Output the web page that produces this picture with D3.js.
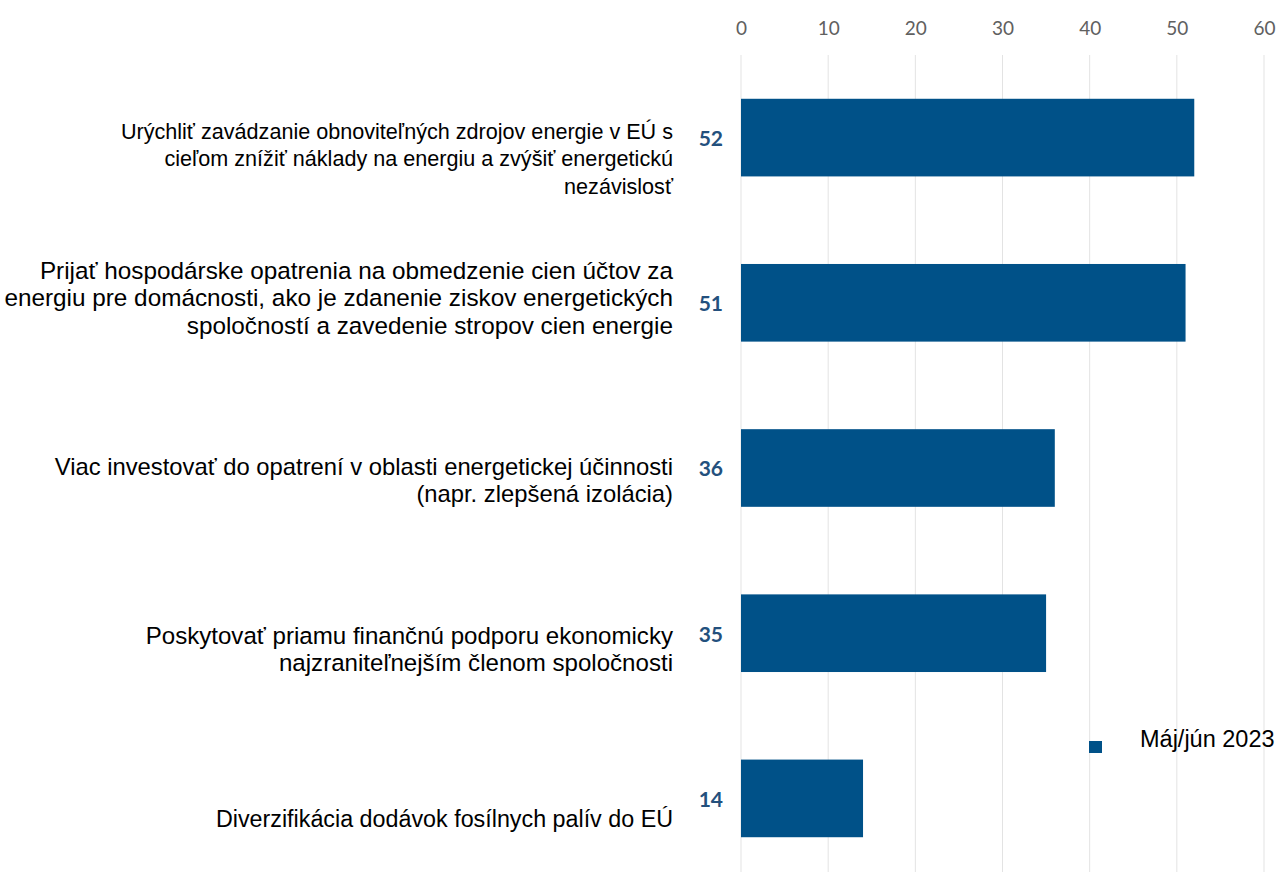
<!DOCTYPE html>
<html>
<head>
<meta charset="utf-8">
<script src="https://cdn.jsdelivr.net/npm/d3@7"></script>
<style>
  html, body { margin: 0; padding: 0; background: #fff; }
  svg { display: block; }
</style>
</head>
<body>
<svg id="chart" width="1279" height="872"></svg>
<script>
// ---- data ----
const categories = [
  ["Urýchliť zavádzanie obnoviteľných zdrojov energie v EÚ s", "cieľom znížiť náklady na energiu a zvýšiť energetickú", "nezávislosť"],
  ["Prijať hospodárske opatrenia na obmedzenie cien účtov za", "energiu pre domácnosti, ako je zdanenie ziskov energetických", "spoločností a zavedenie stropov cien energie"],
  ["Viac investovať do opatrení v oblasti energetickej účinnosti", "(napr. zlepšená izolácia)"],
  ["Poskytovať priamu finančnú podporu ekonomicky", "najzraniteľnejším členom spoločnosti"],
  ["Diverzifikácia dodávok fosílnych palív do EÚ"]
];
const values = [52, 51, 36, 35, 14];
const seriesName = "Máj/jún 2023";
const tickValues = [0, 10, 20, 30, 40, 50, 60];

// ---- layout ----
const W = 1279, H = 872;
const barColor = "#005188";
const labelShift = [21, -5, 12, 16, 20]; // vertical shift of category text block vs bar centre
const labelSize = [21.6, 24.3, 23.8, 24.1, 23.3];
const lineH = 27.5;

const svg = d3.select("#chart");
const ids = categories.map((c, i) => "c" + i);

const x = d3.scaleLinear().domain([0, 60]).range([741, 1264]);
const y = d3.scaleBand().domain(ids).range([55, 881]).paddingInner(0.53).paddingOuter(0.265);

// gridlines
svg.append("g").selectAll("line").data(tickValues).join("line")
  .attr("x1", d => x(d)).attr("x2", d => x(d))
  .attr("y1", 55).attr("y2", H)
  .attr("stroke", "#e3e3e3").attr("stroke-width", 1);

// top axis tick labels
const axis = svg.append("g").attr("transform", "translate(0,28)")
  .call(d3.axisTop(x).tickValues(tickValues).tickSize(0).tickPadding(0));
axis.select(".domain").remove();
axis.selectAll("text")
  .attr("dy", "0.35em")
  .attr("font-family", "Lato, 'Open Sans', sans-serif")
  .attr("font-size", 19)
  .attr("fill", "#606060");

// bars
svg.append("g").selectAll("rect").data(values).join("rect")
  .attr("x", x(0))
  .attr("y", (d, i) => y(ids[i]))
  .attr("width", d => x(d) - x(0))
  .attr("height", y.bandwidth())
  .attr("fill", barColor);

// value labels
svg.append("g").selectAll("text").data(values).join("text")
  .attr("x", 723)
  .attr("y", (d, i) => y(ids[i]) + y.bandwidth() / 2 + 1)
  .attr("dy", "0.35em")
  .attr("text-anchor", "end")
  .attr("font-family", "Lato, 'Open Sans', sans-serif")
  .attr("font-weight", "bold")
  .attr("font-size", 21)
  .attr("fill", "#23507d")
  .text(d => d);

// category labels
const lab = svg.append("g").selectAll("text").data(categories).join("text")
  .attr("text-anchor", "end")
  .attr("font-family", "'Liberation Sans', Arial, sans-serif")
  .attr("font-size", (d, i) => labelSize[i])
  .attr("fill", "#000");
lab.each(function(lines, i) {
  const cy = y(ids[i]) + y.bandwidth() / 2 + labelShift[i];
  const top = cy - (lines.length - 1) * lineH / 2;
  d3.select(this).selectAll("tspan").data(lines).join("tspan")
    .attr("x", 673)
    .attr("y", (l, j) => top + j * lineH)
    .attr("dy", "0.35em")
    .text(l => l);
});

// legend
const leg = svg.append("g");
leg.append("rect").attr("x", 1089).attr("y", 741).attr("width", 13).attr("height", 12).attr("fill", barColor);
leg.append("text").attr("x", 1140).attr("y", 739).attr("dy", "0.35em")
  .attr("font-family", "'Liberation Sans', Arial, sans-serif")
  .attr("font-size", 23.5).attr("fill", "#000")
  .text(seriesName);
</script>
</body>
</html>
